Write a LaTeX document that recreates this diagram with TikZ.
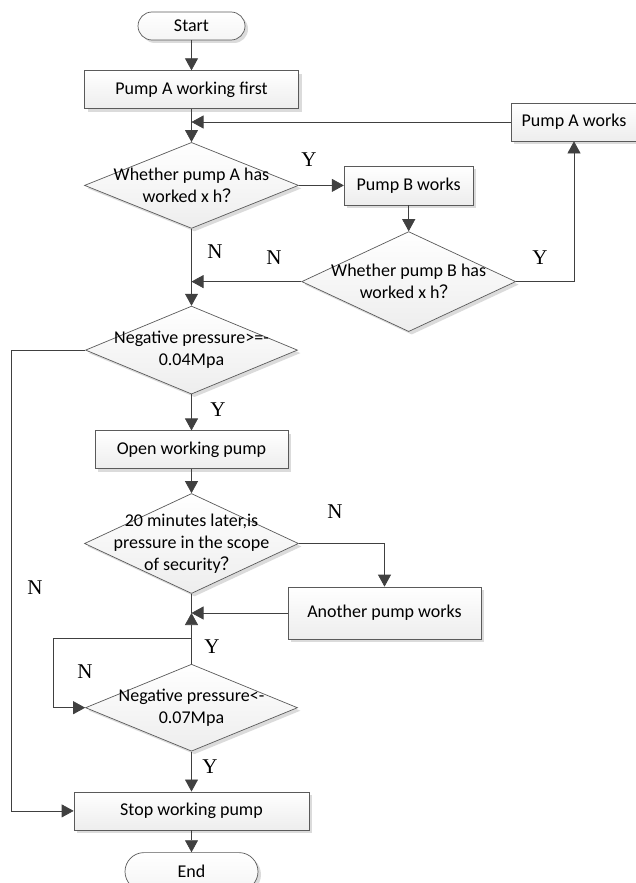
\documentclass[tikz,border=0pt]{standalone}
\usepackage{fontspec}
\setmainfont{Carlito}
\newfontfamily\ynfont{Liberation Serif}
\newfontfamily\cjk{Noto Sans CJK SC}
\usepackage{tikz}
\usetikzlibrary{calc}
\usetikzlibrary{positioning, arrows.meta, shapes.geometric, shadows}

\definecolor{linegray}{HTML}{404040}
\definecolor{edgegray}{HTML}{5A5A5A}

\tikzset{
  base/.style={draw=edgegray, line width=0.7pt, top color=white, bottom color=gray!14,
    drop shadow={shadow xshift=3pt, shadow yshift=-3pt, fill=gray!28, opacity=1},
    font=\fontsize{18}{22}\selectfont, inner sep=0pt, align=center},
  procbox/.style={base, rectangle, minimum height=38pt},
  termbox/.style={base, rectangle, rounded corners=14pt, minimum height=28pt, bottom color=gray!8},
  decision/.style={base, diamond, minimum width=214pt},
  qtext/.style={align=center, font=\fontsize{18}{22}\selectfont, inner sep=0pt},
  yn/.style={font=\ynfont\fontsize{21}{21}\selectfont, inner sep=0pt},
  flow/.style={draw=linegray, line width=0.7pt, -{Triangle[length=12pt, width=13pt]}},
  plain/.style={draw=linegray, line width=0.7pt}
}

\begin{document}
\begin{tikzpicture}[x=1pt, y=1pt]
    \useasboundingbox (0,0) rectangle (636,-883);
    % main column
    \node (start) [termbox, minimum width=107pt] at (191.5,-26) {Start};
    \node (first) [procbox, minimum width=214pt, below=30pt of start] {Pump A working first};
    \node (askA) [decision, minimum height=86pt, below=33pt of first, label={[qtext]center:Whether pump A has\\worked x h{\cjk ？}}] {};
    \node (negA) [decision, minimum width=212pt, minimum height=88pt, below=77pt of askA, label={[qtext]center:Negative pressure>=-\\0.04Mpa}] {};
    \node (open) [procbox, minimum width=193pt, below=36pt of negA] {Open working pump};
    \node (safe) [decision, minimum height=100pt, below=24pt of open, label={[qtext]center:20 minutes later,is\\pressure in the scope\\of security{\cjk ？}}] {};
    \node (negB) [decision, minimum width=212pt, minimum height=87pt, below=70pt of safe, label={[qtext]center:Negative pressure<-\\0.07Mpa}] {};
    \node (stop) [procbox, minimum width=235pt, below=40pt of negB] {Stop working pump};
    \node (end) [termbox, minimum width=133pt, minimum height=38pt, rounded corners=19pt, below=22pt of stop] {End};
    % side nodes
    \node (pumpB) [procbox, minimum width=129pt, minimum height=39pt, right=45pt of askA] {Pump B works};
    \node (askB) [decision, minimum height=100pt, below=26pt of pumpB, label={[qtext]center:Whether pump B has\\worked x h{\cjk ？}}] {};
    \node (pumpA) [procbox, minimum width=126pt] at (574,-122) {Pump A works};
    \node (other) [procbox, minimum width=193pt, minimum height=52pt] at (384.5,-613) {Another pump works};

    \coordinate (backA) at (first.south |- pumpA.west);
    \coordinate (backB) at (askA.south |- askB.west);
    \coordinate (join) at (safe.south |- other.west);
    \coordinate (loop) at ($(negB.north)+(0,26)$);

    \draw [flow] (start) -- (first);
    \draw [flow] (first) -- (askA);
    \draw [flow] (pumpA.west) -- (backA);
    \draw [flow] (askA.east) -- (pumpB.west);
    \draw [flow] (pumpB) -- (askB);
    \draw [flow] (askB.east) -| (pumpA.south);
    \draw [flow] (askB.west) -- (backB);
    \draw [flow] (askA.south) -- (negA.north);
    \draw [flow] (negA.west) -- ++(-74,0) |- (stop.west);
    \draw [flow] (negA) -- (open);
    \draw [flow] (open) -- (safe);
    \draw [flow] (safe.east) -| (other.north);
    \draw [flow] (other.west) -- (join);
    \draw [plain] (safe.south) -- (join);
    \draw [flow] (negB.north) -- (join);
    \draw [flow] (loop) -- ++(-138,0) |- (negB.west);
    \draw [flow] (negB) -- (stop);
    \draw [flow] (stop) -- (end);

    % Y / N marks
    \node (yA) [yn] at (309,-160) {Y};
    \node (nA) [yn] at (215,-252) {N};
    \node (nB) [yn] at (274,-258) {N};
    \node (yB) [yn] at (540,-258) {Y};
    \node (yNeg) [yn] at (218,-410) {Y};
    \node (nNeg) [yn] at (35,-588) {N};
    \node (nSafe) [yn] at (335,-512) {N};
    \node (ySafe) [yn] at (212,-647) {Y};
    \node (nLoop) [yn] at (85,-672) {N};
    \node (yStop) [yn] at (210,-767) {Y};
\end{tikzpicture}
\end{document}
